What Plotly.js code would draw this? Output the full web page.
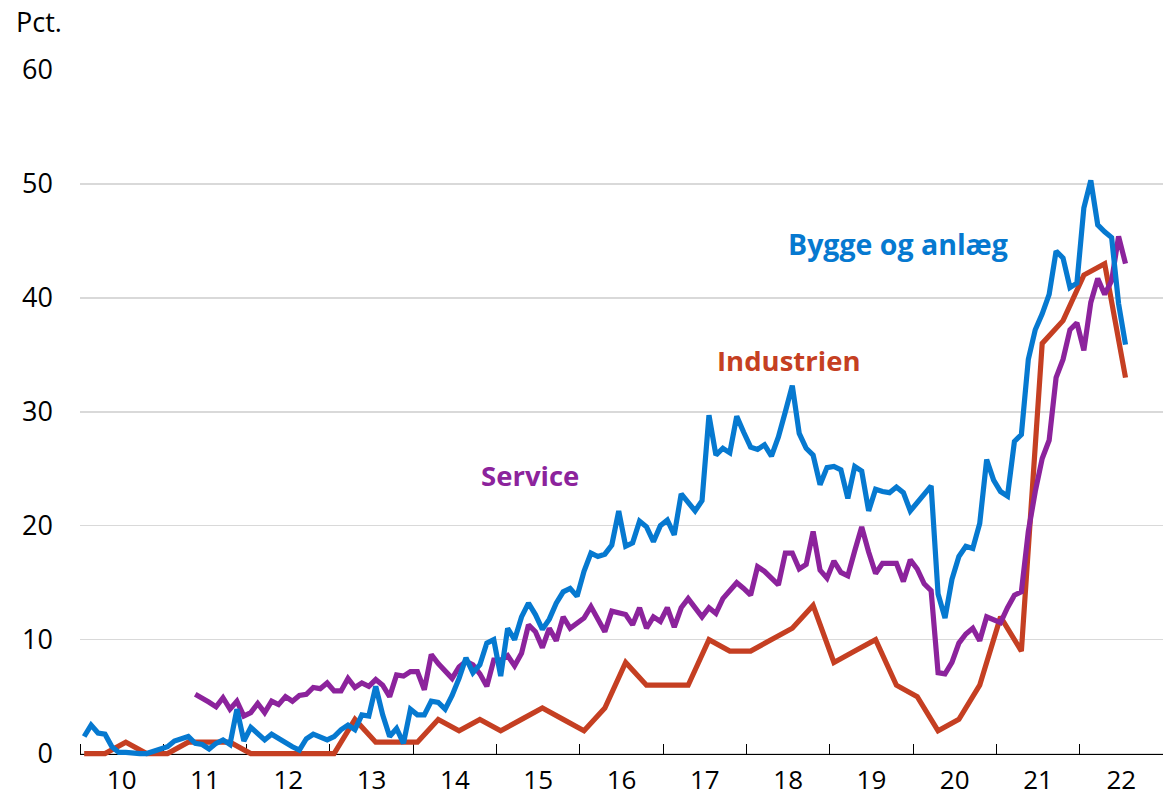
<!DOCTYPE html>
<html>
<head>
<meta charset="utf-8">
<script src="https://cdn.plot.ly/plotly-3.0.1.min.js"></script>
<style>
  html, body { margin: 0; padding: 0; background: #ffffff; }
  #chart { width: 1163px; height: 798px; }
</style>
</head>
<body>
<div id="chart"></div>
<script>
// ---- Data (percent), monthly from Jan 2010 unless noted ----
const startYear = 2010;

// Bygge og anlæg, monthly Jan 2010 - Jul 2022
const bygge = [
  1.5, 2.5, 1.8, 1.7, 0.6, 0.1, 0.1, 0.0, 0.0, 0.0, 0.2, 0.3,
  0.6, 1.1, 1.3, 1.5, 0.9, 0.8, 0.4, 0.9, 1.2, 0.8, 3.9, 1.1,
  2.3, 1.8, 1.2, 1.7, 1.3, 1.0, 0.6, 0.3, 1.3, 1.7, 1.4, 1.2,
  1.5, 2.1, 2.5, 2.1, 3.4, 3.3, 5.9, 3.4, 1.5, 2.2, 0.9, 3.9,
  3.4, 3.4, 4.6, 4.5, 3.9, 5.1, 6.6, 8.4, 7.1, 7.8, 9.7, 10.0,
  6.8, 11.0, 10.0, 12.0, 13.2, 12.2, 10.9, 11.8, 13.2, 14.2, 14.5, 13.8,
  16.0, 17.6, 17.3, 17.5, 18.3, 21.3, 18.2, 18.5, 20.4, 19.9, 18.6, 20.0,
  20.5, 19.2, 22.8, 22.0, 21.3, 22.2, 29.7, 26.2, 26.8, 26.4, 29.6, 28.2,
  26.9, 26.7, 27.1, 26.1, 27.8, 30.0, 32.3, 28.1, 26.8, 26.2, 23.6, 25.1,
  25.2, 24.9, 22.4, 25.2, 24.8, 21.3, 23.2, 23.0, 22.9, 23.4, 22.9, 21.3,
  22.0, 22.7, 23.5, 14.0, 11.9, 15.3, 17.3, 18.2, 18.0, 20.2, 25.8, 24.0,
  23.0, 22.6, 27.4, 28.0, 34.6, 37.2, 38.6, 40.3, 44.1, 43.5, 40.9, 41.3,
  47.9, 50.3, 46.4, 45.8, 45.3, 39.5, 35.9
];

// Service, monthly May 2011 - Jul 2022
const serviceStartMonth = 16;
const service = [
  5.2, 4.9, 4.5, 4.1, 4.9, 3.9, 4.6, 3.3,
  3.6, 4.4, 3.6, 4.6, 4.3, 5.0, 4.6, 5.1, 5.2, 5.8, 5.7, 6.2,
  5.5, 5.5, 6.6, 5.8, 6.2, 5.9, 6.5, 6.0, 5.0, 6.9, 6.8, 7.2,
  7.2, 5.6, 8.7, 7.9, 7.3, 6.6, 7.6, 8.1, 7.8, 7.0, 5.9, 8.2,
  8.2, 8.6, 7.7, 8.8, 11.3, 10.7, 9.3, 11.0, 9.9, 12.0, 11.0, 11.5,
  11.9, 12.9, 11.9, 10.7, 12.5, 12.3, 12.2, 11.3, 12.8, 11.0, 12.0, 11.6,
  12.8, 11.1, 12.8, 13.6, 12.8, 12.0, 12.8, 12.3, 13.6, 14.3, 15.0, 14.5,
  13.9, 16.4, 16.0, 15.4, 14.8, 17.6, 17.6, 16.2, 16.6, 19.5, 16.1, 15.4,
  16.9, 15.9, 15.6, 17.8, 19.9, 17.7, 15.8, 16.7, 16.7, 16.7, 15.1, 17.0,
  16.2, 14.9, 14.3, 7.1, 7.0, 8.0, 9.7, 10.5, 11.0, 9.9, 12.0, 11.8,
  11.5, 12.8, 13.9, 14.2, 19.5, 23.0, 25.9, 27.5, 33.0, 34.6, 37.2, 37.8,
  35.4, 39.6, 41.7, 40.3, 41.5, 45.4, 43.0
];

// Industrien, quarterly Q1 2010 - Q3 2022
const industri = [
  0, 0, 1, 0,   0, 1, 1, 1,   0, 0, 0, 0,   0, 3, 1, 1,
  1, 3, 2, 3,   2, 3, 4, 3,   2, 4, 8, 6,   6, 6, 10, 9,
  9, 10, 11, 13,  8, 9, 10, 6,  5, 2, 3, 6,  12, 9, 36, 38,
  42, 43, 33
];

const yearLabels = ['10','11','12','13','14','15','16','17','18','19','20','21','22'];
const yTicks = [0, 10, 20, 30, 40, 50, 60];

// ---- Colours ----
const cBlue = '#0679d0';
const cPurple = '#8c239c';
const cRed = '#c53f22';

// ---- x positions through the axis scale (fractional years) ----
const monthX = i => startYear + (i + 0.6) / 12;
const xBygge = bygge.map((_, i) => monthX(i));
const xService = service.map((_, i) => monthX(i + serviceStartMonth));
const xIndustri = industri.map((_, k) => monthX(3 * k));

const font = 'Open Sans, Noto Sans, Arial, sans-serif';
const lineW = 5.2;

const traces = [
  { x: xIndustri, y: industri, type: 'scatter', mode: 'lines', name: 'Industrien',
    line: { color: cRed, width: lineW, shape: 'linear' } },
  { x: xService, y: service, type: 'scatter', mode: 'lines', name: 'Service',
    line: { color: cPurple, width: lineW } },
  { x: xBygge, y: bygge, type: 'scatter', mode: 'lines', name: 'Bygge og anlæg',
    line: { color: cBlue, width: lineW } }
];

const yMin = -0.3, yMax = 60;

const layout = {
  width: 1163,
  height: 798,
  margin: { l: 80, r: 0, t: 70, b: 41, pad: 0 },
  paper_bgcolor: '#ffffff',
  plot_bgcolor: '#ffffff',
  showlegend: false,
  hovermode: false,
  font: { family: font, size: 27, color: '#000000' },
  xaxis: {
    type: 'linear',
    range: [startYear, startYear + yearLabels.length],
    anchor: 'free',
    position: (0 - yMin) / (yMax - yMin),
    showgrid: false,
    zeroline: false,
    showline: true,
    linecolor: '#000000',
    linewidth: 1,
    layer: 'below traces',
    tickmode: 'array',
    tickvals: yearLabels.map((_, i) => startYear + i + 0.5),
    ticktext: yearLabels,
    ticks: '',
    ticklabelstandoff: 3,
    tickfont: { family: font, size: 26, color: '#000000' },
    minor: {
      tickmode: 'linear',
      tick0: startYear,
      dtick: 1,
      ticks: 'inside',
      ticklen: 10,
      tickwidth: 1,
      tickcolor: '#000000',
      showgrid: false
    }
  },
  yaxis: {
    range: [yMin, yMax],
    tickmode: 'array',
    tickvals: yTicks,
    ticktext: yTicks.map(String),
    showgrid: true,
    gridcolor: '#d9d9d9',
    gridwidth: 1.5,
    zeroline: false,
    showline: false,
    ticks: '',
    ticklabelstandoff: 26,
    tickfont: { family: font, size: 27, color: '#000000' }
  },
  annotations: [
    { text: 'Pct.', xref: 'paper', yref: 'paper', x: 0, y: 1,
      xanchor: 'left', yanchor: 'bottom', xshift: -66, yshift: 28,
      showarrow: false, font: { family: font, size: 27, color: '#000000' } },
    { text: '<b>Bygge og anlæg</b>', xref: 'x', yref: 'y', x: 2019.82, y: 44.7,
      xanchor: 'center', yanchor: 'middle', showarrow: false,
      font: { family: font, size: 28.5, color: cBlue } },
    { text: '<b>Industrien</b>', xref: 'x', yref: 'y', x: 2018.5, y: 34.5,
      xanchor: 'center', yanchor: 'middle', showarrow: false,
      font: { family: font, size: 27.5, color: cRed } },
    { text: '<b>Service</b>', xref: 'x', yref: 'y', x: 2015.4, y: 24.4,
      xanchor: 'center', yanchor: 'middle', showarrow: false,
      font: { family: font, size: 27.5, color: cPurple } }
  ]
};

Plotly.newPlot('chart', traces, layout, { displayModeBar: false, staticPlot: true });
</script>
</body>
</html>
